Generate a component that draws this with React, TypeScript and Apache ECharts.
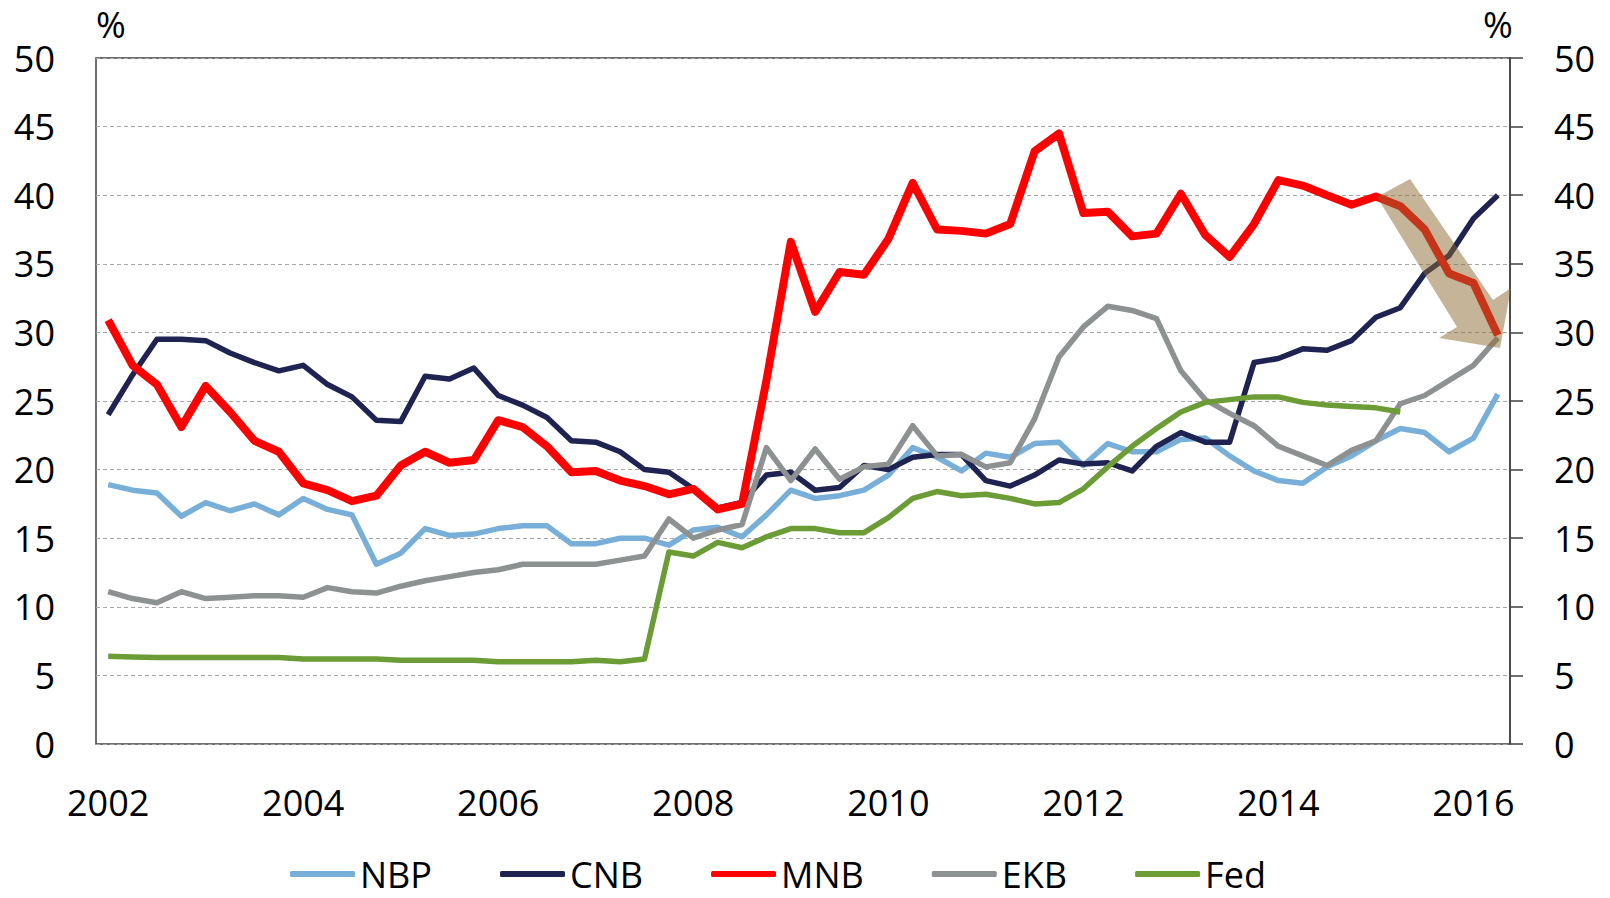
import React, { useEffect, useRef } from "react";
import * as echarts from "echarts";

const years = [2002, 2003, 2004, 2005, 2006, 2007, 2008, 2009, 2010, 2011, 2012, 2013, 2014, 2015, 2016];
const quarters = ["Q1", "Q2", "Q3", "Q4"];
const categories: string[] = [];
years.forEach((y) => quarters.forEach((q) => categories.push(`${y}${q}`)));
categories.splice(58); // 2002Q1 .. 2016Q2

const seriesNames = ["NBP", "CNB", "MNB", "EKB", "Fed"];

const nbp = [18.9, 18.5, 18.3, 16.6, 17.6, 17.0, 17.5, 16.7, 17.9, 17.1, 16.7, 13.1, 13.9, 15.7, 15.2, 15.3, 15.7, 15.9, 15.9, 14.6,
  14.6, 15.0, 15.0, 14.5, 15.6, 15.8, 15.1, 16.7, 18.5, 17.9, 18.1, 18.5, 19.6, 21.6, 20.9, 19.9, 21.2, 20.9, 21.9, 22.0,
  20.3, 21.9, 21.3, 21.3, 22.2, 22.3, 21.0, 19.9, 19.2, 19.0, 20.2, 21.0, 22.1, 23.0, 22.7, 21.3, 22.3, 25.5];
const cnb = [24.0, 26.9, 29.5, 29.5, 29.4, 28.5, 27.8, 27.2, 27.6, 26.2, 25.3, 23.6, 23.5, 26.8, 26.6, 27.4, 25.4, 24.7, 23.8, 22.1,
  22.0, 21.3, 20.0, 19.8, 18.6, 17.2, 17.6, 19.6, 19.8, 18.5, 18.7, 20.3, 20.0, 20.9, 21.1, 21.1, 19.2, 18.8, 19.6, 20.7,
  20.4, 20.5, 19.9, 21.7, 22.7, 22.0, 22.0, 27.8, 28.1, 28.8, 28.7, 29.4, 31.1, 31.8, 34.3, 35.6, 38.3, 40.0];
const mnb = [30.9, 27.6, 26.2, 23.1, 26.1, 24.2, 22.1, 21.3, 19.0, 18.5, 17.7, 18.1, 20.3, 21.3, 20.5, 20.7, 23.6, 23.1, 21.7, 19.8,
  19.9, 19.2, 18.8, 18.2, 18.6, 17.1, 17.5, 26.5, 36.6, 31.5, 34.4, 34.2, 36.8, 40.9, 37.5, 37.4, 37.2, 37.9, 43.2, 44.5,
  38.7, 38.8, 37.0, 37.2, 40.1, 37.1, 35.5, 37.9, 41.1, 40.7, 40.0, 39.3, 39.9, 39.2, 37.5, 34.3, 33.6, 29.8];
const ekb = [11.1, 10.6, 10.3, 11.1, 10.6, 10.7, 10.8, 10.8, 10.7, 11.4, 11.1, 11.0, 11.5, 11.9, 12.2, 12.5, 12.7, 13.1, 13.1, 13.1,
  13.1, 13.4, 13.7, 16.4, 15.0, 15.6, 16.0, 21.6, 19.2, 21.5, 19.3, 20.2, 20.4, 23.2, 21.0, 21.1, 20.2, 20.5, 23.7, 28.2,
  30.4, 31.9, 31.6, 31.0, 27.2, 25.1, 24.1, 23.2, 21.7, 21.0, 20.3, 21.4, 22.1, 24.8, 25.4, 26.5, 27.6, 29.6];
const fed = [6.4, 6.35, 6.3, 6.3, 6.3, 6.3, 6.3, 6.3, 6.2, 6.2, 6.2, 6.2, 6.1, 6.1, 6.1, 6.1, 6.0, 6.0, 6.0, 6.0,
  6.1, 6.0, 6.2, 14.0, 13.7, 14.7, 14.3, 15.1, 15.7, 15.7, 15.4, 15.4, 16.5, 17.9, 18.4, 18.1, 18.2, 17.9, 17.5, 17.6,
  18.6, 20.2, 21.7, 23.0, 24.2, 24.9, 25.1, 25.3, 25.3, 24.9, 24.7, 24.6, 24.5, 24.2, null, null, null, null];

const seriesValues = [nbp, cnb, mnb, ekb, fed];
const seriesColors = ["#78afd9", "#1f2352", "#ff0000", "#8e9192", "#6b9c36"];
const seriesWidths = [5.5, 5.5, 8, 5.5, 5.5];

const yTicks = { min: 0, max: 50, interval: 5 };

const FONT = "'Open Sans', 'Noto Sans', sans-serif";

export default function App() {
  const ref = useRef<HTMLDivElement>(null);
  useEffect(() => {
    if (!ref.current) return;
    const chart = echarts.init(ref.current, undefined, { renderer: "svg" });
    const option: any = {
      animation: false,
      backgroundColor: "#ffffff",
      textStyle: { fontFamily: FONT },
      grid: {
        left: 96, top: 58, right: 100, bottom: 154,
        show: true, borderColor: "#404040", borderWidth: 1.5, backgroundColor: "transparent",
      },
      xAxis: {
        type: "category",
        data: categories,
        boundaryGap: true,
        axisLine: { show: false },
        axisTick: { show: false },
        axisLabel: {
          interval: 7,
          formatter: (v: string) => v.slice(0, 4),
          fontSize: 36, color: "#000", margin: 40, fontFamily: FONT,
        },
      },
      yAxis: [
        {
          type: "value", ...yTicks, position: "left",
          axisLine: { show: false }, axisTick: { show: false },
          axisLabel: { fontSize: 36, color: "#000", margin: 41, fontFamily: FONT },
          splitLine: { show: true, lineStyle: { type: [4, 3], color: "#a6a6a6", width: 1 } },
        },
        {
          type: "value", ...yTicks, position: "right",
          axisLine: { show: true, lineStyle: { color: "#404040", width: 1.5 } },
          axisTick: { show: true, inside: false, length: 13, lineStyle: { color: "#404040", width: 1.5 } },
          axisLabel: { fontSize: 36, color: "#000", margin: 44, fontFamily: FONT },
          splitLine: { show: false },
        },
      ],
      legend: {
        data: seriesNames,
        left: 290, top: 856, padding: 0,
        icon: "roundRect",
        itemWidth: 65, itemHeight: 6, itemGap: 68,
        textStyle: { fontSize: 36, lineHeight: 36, color: "#000", fontFamily: FONT },
      },
      series: seriesNames.map((name, i) => ({
        name,
        type: "line",
        data: seriesValues[i],
        yAxisIndex: 0,
        symbol: "none",
        connectNulls: false,
        color: seriesColors[i],
        lineStyle: { color: seriesColors[i], width: seriesWidths[i], join: "round" },
        z: 2 + i,
      })),
      graphic: [
        { type: "text", left: 96, top: 6, style: { text: "%", fontSize: 36, fill: "#000", fontFamily: FONT } },
        { type: "text", left: 1483, top: 6, style: { text: "%", fontSize: 36, fill: "#000", fontFamily: FONT } },
        {
          type: "polygon",
          z: 100,
          shape: {
            points: [[1377, 197], [1410, 179], [1493, 300], [1511, 288], [1500, 348], [1439, 338], [1457, 327]],
          },
          style: { fill: "rgba(140,105,50,0.5)" },
        },
      ],
    };
    chart.setOption(option);
    return () => chart.dispose();
  }, []);
  return <div ref={ref} style={{ position: "fixed", left: 0, top: 0, width: 1610, height: 898 }} />;
}
